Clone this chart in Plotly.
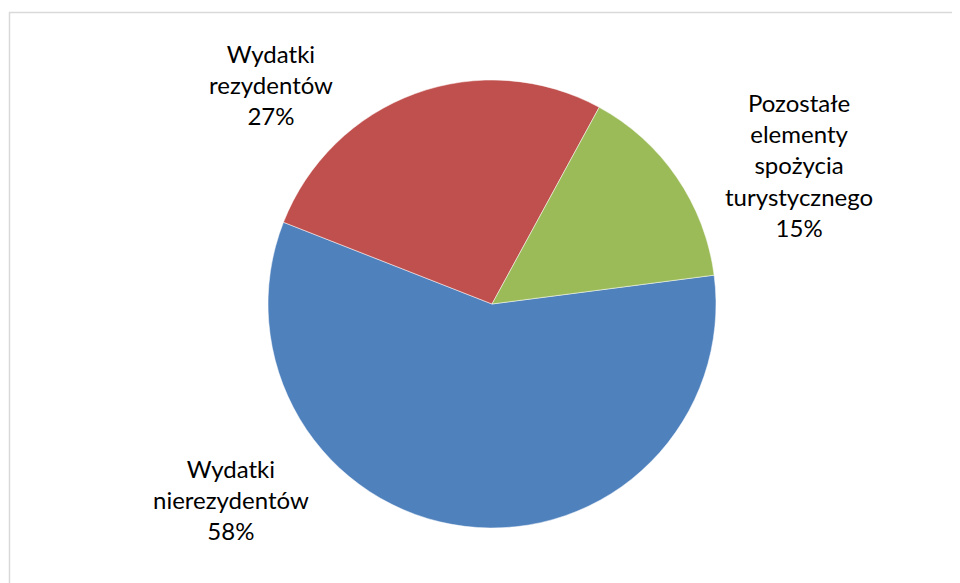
import plotly.graph_objects as go

# Data
labels = ["Wydatki nierezydentów", "Wydatki rezydentów", "Pozostałe elementy spożycia turystycznego"]
label_lines = [["Wydatki", "nierezydentów"], ["Wydatki", "rezydentów"], ["Pozostałe", "elementy", "spożycia", "turystycznego"]]
values = [58, 27, 15]
colors = ["#4F81BD", "#C0504D", "#9BBB59"]

W, H = 960, 583
OFF = 8  # page body margin offset
cx, cy, r = 492 - OFF, 304 - OFF, 224

fig = go.Figure()
fig.add_trace(go.Pie(
    labels=labels,
    values=values,
    sort=False,
    direction="clockwise",
    rotation=82.6,
    marker=dict(colors=colors, line=dict(color="#FFFFFF", width=0.5)),
    textinfo="none",
    hoverinfo="label+percent",
    showlegend=False,
    domain=dict(x=[(cx - r) / W, (cx + r) / W], y=[(H - cy - r) / H, (H - cy + r) / H]),
))

# label positions (pixel centres of label blocks)
label_pos = [(231, 499), (271, 84), (799, 165)]
font = dict(family="Lato, Open Sans, sans-serif", size=24, color="#000000")
total = sum(values)
for lines, v, (px, py) in zip(label_lines, values, label_pos):
    text = "<br>".join(lines + [f"{round(100 * v / total)}%"])
    fig.add_annotation(
        x=(px - OFF) / W, y=1 - (py - OFF) / H, xref="paper", yref="paper",
        text=text, showarrow=False, font=font,
        xanchor="center", yanchor="middle", align="center",
    )

fig.add_shape(type="rect", xref="paper", yref="paper",
              x0=(9.5 - OFF) / W, x1=1.05, y0=-0.05, y1=1 - (12.5 - OFF) / H,
              line=dict(color="#D9D9D9", width=1.5), fillcolor="rgba(0,0,0,0)")

fig.update_layout(
    width=W, height=H,
    margin=dict(l=0, r=0, t=0, b=0),
    paper_bgcolor="#FFFFFF",
    plot_bgcolor="#FFFFFF",
)

fig.write_html("out.html")
